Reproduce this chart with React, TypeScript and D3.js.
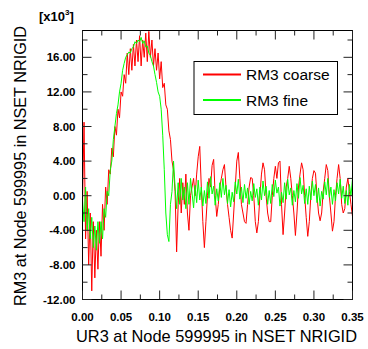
import React from 'react';
import * as d3 from 'd3';

// sample spacing of the two series along UR3
const STEP = 0.002;

// RM3 coarse, in units of 1e3
const coarse = [
  -1.0, 8.5, -5, 0.5, -8, -2, -11, -3, -9.5, -4, -8.5, -3, -7, -1, -4, 1,
  -1, 3, 2.5, 5.5, 4.5, 8, 7, 10, 9, 12, 11.5, 14, 13, 16.5, 14, 17,
  14.5, 17.5, 15, 18, 15.5, 18.5, 15, 18, 16, 18.8, 15.5, 19.0, 16, 18, 15, 17,
  14.5, 16.5, 13.5, 15.5, 12.5, 13, 10.5, 10, 7.5, 6.5, 4, 3, 0.5, -6.5, -1, 2,
  -2, 1.5, -1, 2.5, -2, -4, 0, 1, 2, 0, 2.5, 4.5, 5.7, 1, -3, -6,
  -3, 0, 2, 1, 3.5, 4.2, 0, -2.4, -1, 1, 2, 3, 3.6, 1, -1, -2.5,
  -4, -4.9, -2, 1, 4, 5, 2, -1, -2, -3, -3.2, -1, 1, 2.1, 2, 0,
  -3, -4.3, -3, 0, 2.5, 3.8, 3, 0, -2, -3, -3, 0, 2, 3.4, 2, 3.8,
  4, -1, -4.5, -2, 1, 2, 3.4, 2, 0, -2, -4.6, -2, 1, 2.5, 3.8, 3,
  0, -2.5, -4.7, -3, 0, 2, 2.9, 2.6, 0, -2, -2.9, -2, 0.5, 2, 3.6, 2.9,
  0, -2, -4.1, -3, 0, 2, 3.6, 2, -1, -2, -1.5, 1, 2, 0.5, -1, -2.4,
];

// RM3 fine, in units of 1e3
const fine = [
  -0.5, -3, 1, -4, -1.5, -5, -2.5, -6, -3.5, -6.3, -3, -5.5, -3, -5, -1.5, -2.5,
  0.5, 0, 3, 4, 6.5, 8, 9.5, 10.5, 12, 13, 14.5, 15.3, 16, 16.3, 16.6, 16.5,
  17, 17.2, 17.8, 17.6, 18, 17.8, 18.3, 17.6, 17.9, 17.2, 17.3, 16.5, 16.2, 15.5, 15, 14,
  13.1, 12, 11.5, 10, 7, 3, -2, -4.5, -5.3, -1, 0.5, 4, 1, -1.5, 1.5, -1,
  2, -0.5, 1, -1.5, 1.5, -1, 2, 0.3, -1.4, 1.2, -0.8, 1.8, -0.5, 1.0, -1.2, 0.6,
  -0.9, 1.6, -0.3, 2.2, 0.2, 1.1, -1.1, 0.8, -0.6, 1.5, -0.2, 2.0, 0.1, 1.2, -0.9, 0.7,
  -1.3, 0.4, -0.7, 1.6, 0.2, 1.9, -0.4, 1.0, -0.8, 1.3, -0.3, 0.9, -1.0, 0.5, -0.6, 1.4,
  -0.2, 0.8, -1.1, 1.0, -0.5, 1.7, 0.0, 1.1, -1.0, 0.6, -0.9, 1.3, -0.1, 1.8, 0.3, 1.0,
  -1.2, 0.4, -0.8, 1.5, -0.4, 1.9, 0.1, 0.9, -1.1, 0.6, -0.7, 1.4, -0.3, 2.1, 0.2, 1.2,
  -0.9, 0.8, -1.0, 1.1, -0.5, 1.7, 0.0, 1.3, -0.8, 0.9, -1.2, 0.5, -0.4, 1.6, 0.1, 2.0,
  -0.2, 1.0, -1.0, 0.7, -0.6, 1.5, 0.2, 1.9, -0.3, 1.1, -0.9, 0.6, -1.1, 1.3, 0.0, 2.0,
];

const xMajor = [0, 0.05, 0.1, 0.15, 0.2, 0.25, 0.3, 0.35];
const xMinor = [0.025, 0.075, 0.125, 0.175, 0.225, 0.275, 0.325];
const yMajor = [-12, -8, -4, 0, 4, 8, 12, 16];
const yMinor = [-10, -6, -2, 2, 6, 10, 14, 18];

const legendItems = [
  { label: 'RM3 coarse', color: '#ff0000' },
  { label: 'RM3 fine', color: '#00ff00' },
];

const W = 368;
const H = 349;
const left = 82.5, top = 30.5, right = 352.5, bottom = 299.5;
const font = '"Liberation Sans", Arial, Helvetica, sans-serif';

export default function App() {
  const x = d3.scaleLinear().domain([0, 0.35]).range([left, right]);
  const y = d3.scaleLinear().domain([-12, 19.1]).range([bottom, top]);

  const line = d3.line<number>()
    .x((_, i) => x(i * STEP))
    .y(d => y(d));

  const major = 9, minor = 5;

  return (
    <svg width={W} height={H} style={{ position: 'absolute', left: 0, top: 0, background: '#fff' }}>
      <path d={line(coarse) ?? ''} fill="none" stroke="#ff0000" strokeWidth={1} />
      <path d={line(fine) ?? ''} fill="none" stroke="#00ff00" strokeWidth={1} />

      <rect x={left} y={top} width={right - left} height={bottom - top} fill="none" stroke="#000" strokeWidth={1} />

      <g stroke="#222" strokeWidth={1}>
        {xMajor.map(t => (
          <g key={'xM' + t}>
            <line x1={x(t)} x2={x(t)} y1={bottom} y2={bottom - major} />
            <line x1={x(t)} x2={x(t)} y1={top} y2={top + major} />
          </g>
        ))}
        {xMinor.map(t => (
          <g key={'xm' + t}>
            <line x1={x(t)} x2={x(t)} y1={bottom} y2={bottom - minor} />
            <line x1={x(t)} x2={x(t)} y1={top} y2={top + minor} />
          </g>
        ))}
        {yMajor.map(t => (
          <g key={'yM' + t}>
            <line x1={left} x2={left + major} y1={y(t)} y2={y(t)} />
            <line x1={right} x2={right - major} y1={y(t)} y2={y(t)} />
          </g>
        ))}
        {yMinor.map(t => (
          <g key={'ym' + t}>
            <line x1={left} x2={left + minor} y1={y(t)} y2={y(t)} />
            <line x1={right} x2={right - minor} y1={y(t)} y2={y(t)} />
          </g>
        ))}
      </g>

      <g fontFamily={font} fontWeight="bold" fontSize={11.5} fill="#000">
        {xMajor.map(t => (
          <text key={'xl' + t} x={x(t)} y={321} textAnchor="middle">{t.toFixed(2)}</text>
        ))}
        {yMajor.map(t => (
          <text key={'yl' + t} x={75.5} y={y(t) + 4} textAnchor="end">{t.toFixed(2)}</text>
        ))}
        <text x={39} y={21} fontSize={13}>
          [x10<tspan dy={-6} fontSize={8}>3</tspan><tspan dy={6}>]</tspan>
        </text>
      </g>

      <text x={76} y={342} textLength={281} lengthAdjust="spacingAndGlyphs" fontFamily={font} fontSize={17} fill="#000">
        UR3 at Node 599995 in NSET NRIGID
      </text>
      <text transform={`translate(25.5,306) rotate(-90)`} textLength={280} lengthAdjust="spacingAndGlyphs" fontFamily={font} fontSize={17} fill="#000">
        RM3 at Node 599995 in NSET NRIGID
      </text>

      <rect x={194} y={61.5} width={143.5} height={53} fill="#fff" stroke="#000" strokeWidth={1} />
      {legendItems.map((d, i) => (
        <g key={d.label}>
          <line x1={203} x2={241} y1={74.5 + i * 25.5} y2={74.5 + i * 25.5} stroke={d.color} strokeWidth={2} />
          <text x={246} y={80 + i * 25.5} fontFamily={font} fontSize={15.5} fill="#000">{d.label}</text>
        </g>
      ))}
    </svg>
  );
}
